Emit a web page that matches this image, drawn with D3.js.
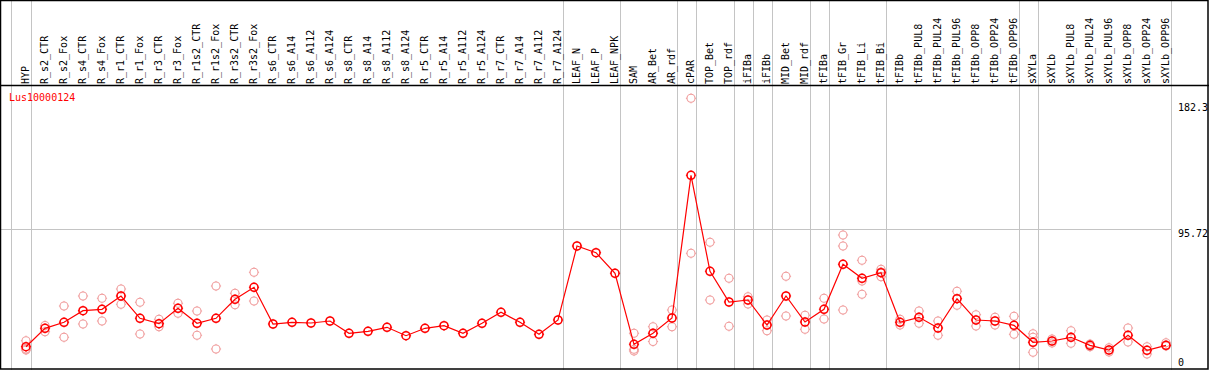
<!DOCTYPE html>
<html>
<head>
<meta charset="utf-8">
<script src="https://cdn.jsdelivr.net/npm/d3@7"></script>
<style>
  html, body { margin: 0; padding: 0; background: #fff; }
  svg { display: block; }
  text { font-family: "DejaVu Sans Mono", "Liberation Mono", monospace; font-size: 10px; }
</style>
</head>
<body>
<svg id="chart" width="1209" height="370"></svg>
<script>
const title = "Lus10000124";

const categories = [
  "HYP",
  "R_s2_CTR","R_s2_Fox","R_s4_CTR","R_s4_Fox","R_r1_CTR","R_r1_Fox","R_r3_CTR","R_r3_Fox",
  "R_r1s2_CTR","R_r1s2_Fox","R_r3s2_CTR","R_r3s2_Fox",
  "R_s6_CTR","R_s6_A14","R_s6_A112","R_s6_A124","R_s8_CTR","R_s8_A14","R_s8_A112","R_s8_A124",
  "R_r5_CTR","R_r5_A14","R_r5_A112","R_r5_A124","R_r7_CTR","R_r7_A14","R_r7_A112","R_r7_A124",
  "LEAF_N","LEAF_P","LEAF_NPK",
  "SAM","AR_Bet","AR_rdf",
  "cPAR",
  "TOP_Bet","TOP_rdf",
  "iFIBa",
  "iFIBb",
  "MID_Bet","MID_rdf",
  "tFIBa",
  "tFIB_Gr","tFIB_Li","tFIB_Bi",
  "tFIBb","tFIBb_PUL8","tFIBb_PUL24","tFIBb_PUL96","tFIBb_OPP8","tFIBb_OPP24","tFIBb_OPP96",
  "sXYLa",
  "sXYLb","sXYLb_PUL8","sXYLb_PUL24","sXYLb_PUL96","sXYLb_OPP8","sXYLb_OPP24","sXYLb_OPP96"
];

// last category of each group (group separators)
const groupEnds = ["HYP","R_r7_A124","LEAF_NPK","AR_rdf","cPAR","TOP_rdf","iFIBa","iFIBb",
  "MID_rdf","tFIBa","tFIB_Bi","tFIBb_OPP96","sXYLa","sXYLb_OPP96"];

const meanValues = [
  17.45,
  29.66,33.65,41.34,42.27,51.10,36.30,32.72,42.94,
  32.98,36.30,48.91,56.87,
  32.52,33.65,33.18,34.51,26.35,27.67,30.33,24.75,
  29.66,31.39,26.35,32.98,40.28,33.65,25.68,35.17,
  84.28,79.83,66.16,
  19.05,26.35,36.50,
  131.2,
  67.49,47.12,
  48.44,
  31.85,
  51.10,33.84,
  42.27,
  72.14,62.84,66.56,
  33.65,36.96,29.86,49.31,35.17,34.51,31.65,
  20.37,
  21.24,23.69,18.38,15.26,25.02,15.06,18.38
];

// replicate values per category (empty = none shown)
const replicateValues = [
  [21.43,15.93,15.26],
  [31.52,27.41],[44.46,23.69],[51.10,32.52],[49.57,34.51],[55.74,45.59],[46.92,25.88],[35.64,30.73],[46.25,39.62],
  [41.14,25.02],[57.74,15.93],[52.89,45.32],[66.83,47.78],
  [],[],[],[],[],[],[],[],
  [],[],[],[],[],[],[],[],
  [],[],[],
  [26.35,15.73,14.60],[30.73,20.90],[41.81,30.73],
  [182.3,79.43],
  [86.73,48.44],[62.84,30.99],
  [50.63,45.79],
  [35.17,28.07],
  [64.17,37.83],[38.29,29.00],
  [49.57,35.84],
  [91.58,84.28,41.81],[74.79,61.05,52.23],[68.82,67.03,63.91],
  [35.64,31.85],[41.14,32.98],[34.51,25.02],[54.22,44.93],[38.69,31.19],[36.96,31.85],[37.63,25.68],
  [26.08,23.69,13.74],
  [22.56,19.91],[28.07,19.71],[19.24,17.45],[16.79,13.94],[29.86,20.57],[17.45,12.61],[20.11,17.92]
];

const yTicks = [182.3, 95.72, 0];
const yMax = 182.3;

const W = 1209, H = 370;
const headerY = 85.5;

const svg = d3.select("#chart");

const x = d3.scalePoint().domain(categories).range([26, 26 + 19 * (categories.length - 1)]);
const y = d3.scaleLinear().domain([0, yMax]).range([373, 98.3]);

// grid: horizontal middle line
svg.append("line")
  .attr("x1", 1).attr("x2", Math.round(x(categories[categories.length - 1]) + 4.5) + 0.5)
  .attr("y1", Math.round(y(yTicks[1])) + 0.5).attr("y2", Math.round(y(yTicks[1])) + 0.5)
  .attr("stroke", "#c4c4c4").attr("stroke-width", 1);

// group separators
const sepX = [x(categories[0]) - 15].concat(groupEnds.map(c => x(c) + 4.5));
svg.selectAll("line.sep").data(sepX).enter().append("line")
  .attr("class", "sep")
  .attr("x1", d => Math.round(d) + 0.5).attr("x2", d => Math.round(d) + 0.5)
  .attr("y1", 0).attr("y2", H)
  .attr("stroke", "#c4c4c4").attr("stroke-width", 1);

// borders
svg.append("rect").attr("x", 0.5).attr("y", 0.5).attr("width", W - 1.5).attr("height", H - 1.5)
  .attr("fill", "none").attr("stroke", "#000").attr("stroke-width", 1.5);
svg.append("line").attr("x1", 0).attr("x2", W).attr("y1", headerY).attr("y2", headerY)
  .attr("stroke", "#000").attr("stroke-width", 1.5);

// header labels
svg.selectAll("text.cat").data(categories).enter().append("text")
  .attr("class", "cat")
  .attr("transform", d => `translate(${x(d) + 2.5},84) rotate(-90)`)
  .attr("text-anchor", "start")
  .attr("fill", "#000")
  .text(d => d);

// title
svg.append("text").attr("x", 9).attr("y", 101).attr("fill", "#ff0000").text(title);

// y tick labels
svg.selectAll("text.ytick").data(yTicks).enter().append("text")
  .attr("class", "ytick")
  .attr("x", 1178)
  .attr("y", d => Math.max(111, Math.min(366, y(d) + 8)))
  .attr("fill", "#000")
  .text(d => d);

// marker drawing helper: circle with small ticks
function marker(g, r, color, sw) {
  g.append("circle").attr("r", r).attr("fill", "none").attr("stroke", color).attr("stroke-width", sw);
  const t = r + 1.1;
  [[0, -r, 0, -t], [0, r, 0, t], [-r, 0, -t, 0], [r, 0, t, 0]].forEach(s => {
    g.append("line").attr("x1", s[0]).attr("y1", s[1]).attr("x2", s[2]).attr("y2", s[3])
      .attr("stroke", color).attr("stroke-width", 1);
  });
}

// replicates
const reps = [];
categories.forEach((c, i) => replicateValues[i].forEach(v => reps.push({ c, v })));
svg.selectAll("g.rep").data(reps).enter().append("g")
  .attr("class", "rep")
  .attr("transform", d => `translate(${x(d.c)},${y(d.v)})`)
  .each(function () { marker(d3.select(this), 4, "#f09c9c", 1.1); });

// mean line
const meanData = categories.map((c, i) => ({ c, v: meanValues[i] }));
svg.append("path").datum(meanData)
  .attr("fill", "none").attr("stroke", "#ff0000").attr("stroke-width", 1.2)
  .attr("d", d3.line().x(d => x(d.c)).y(d => y(d.v)));

// mean markers
svg.selectAll("g.mean").data(meanData).enter().append("g")
  .attr("class", "mean")
  .attr("transform", d => `translate(${x(d.c)},${y(d.v)})`)
  .each(function () { marker(d3.select(this), 4, "#ff0000", 1.6); });
</script>
</body>
</html>
